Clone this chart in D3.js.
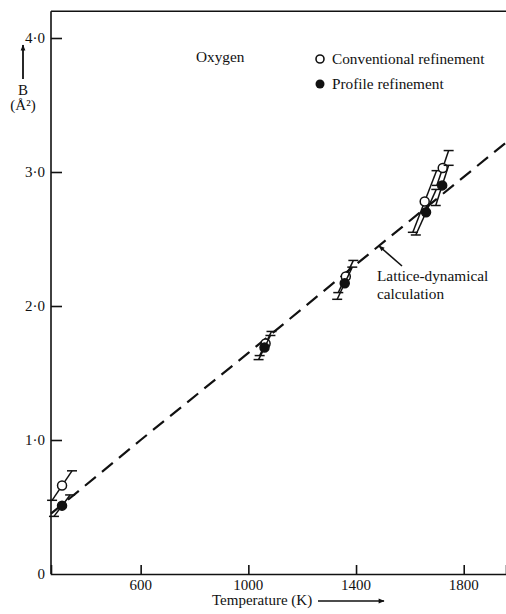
<!DOCTYPE html>
<html>
<head>
<meta charset="utf-8">
<script src="https://cdn.jsdelivr.net/npm/d3@7"></script>
<style>
  html, body { margin: 0; padding: 0; background: #fff; }
  svg text { font-family: "Liberation Serif", "DejaVu Serif", serif; fill: #111; }
</style>
</head>
<body>
<div id="chart"></div>
<script>
// lattice-dynamical calculation (dashed line)
const calcT = [267, 600, 1000, 1400, 1957];
const calcB = [0.45, 1.0, 1.65, 2.31, 3.22];

// conventional refinement (open circles), error bars are slanted: +/- dT, +/- dB
const convT  = [308, 1064, 1362, 1655, 1722];
const convB  = [0.66, 1.72, 2.22, 2.78, 3.03];
const convDT = [37, 22, 28, 44, 22];
const convDB = [0.11, 0.09, 0.12, 0.23, 0.13];

// profile refinement (filled circles)
const profT  = [308, 1060, 1358, 1660, 1720];
const profB  = [0.51, 1.69, 2.17, 2.70, 2.90];
const profDT = [30, 22, 28, 38, 24];
const profDB = [0.08, 0.09, 0.12, 0.17, 0.15];

const xTicks = [600, 1000, 1400, 1800];
const yTicks = [0, 1, 2, 3, 4];
const yTickLabels = ['0', '1·0', '2·0', '3·0', '4·0'];

const width = 506, height = 614;

const svg = d3.select('#chart').append('svg')
  .attr('width', width)
  .attr('height', height);

const x = d3.scaleLinear().domain([267, 1957]).range([51, 506]);
const y = d3.scaleLinear().domain([0, 4.2]).range([574, 11.2]);

// frame: left axis and top line
const frame = svg.append('g').attr('stroke', '#111').attr('stroke-width', 1.6).attr('fill', 'none');
frame.append('line').attr('x1', x(267)).attr('x2', x(267)).attr('y1', y(0)).attr('y2', y(4.2));
frame.append('line').attr('x1', x(267)).attr('x2', width).attr('y1', y(4.2)).attr('y2', y(4.2));

const xAxis = svg.append('g')
  .attr('transform', `translate(0,${y(0)})`)
  .call(d3.axisTop(x).tickValues(xTicks).tickSize(9).tickFormat(''));
xAxis.select('.domain').attr('stroke', '#111').attr('stroke-width', 1.6);
xAxis.selectAll('line').attr('stroke', '#111').attr('stroke-width', 1.6);

const yAxis = svg.append('g')
  .attr('transform', `translate(${x(267)},0)`)
  .call(d3.axisRight(y).tickValues(yTicks.slice(1)).tickSize(11).tickFormat(''));
yAxis.select('.domain').remove();
yAxis.selectAll('line').attr('stroke', '#111').attr('stroke-width', 1.6);

// tick labels
svg.append('g').selectAll('text')
  .data(xTicks)
  .join('text')
  .attr('x', d => x(d))
  .attr('y', 590)
  .attr('text-anchor', 'middle')
  .attr('font-size', 15)
  .text(d => d);

svg.append('g').selectAll('text')
  .data(yTicks)
  .join('text')
  .attr('x', 45)
  .attr('y', d => y(d) + 5)
  .attr('text-anchor', 'end')
  .attr('font-size', 15)
  .text((d, i) => yTickLabels[i]);

// arrow marker
svg.append('defs').append('marker')
  .attr('id', 'arr')
  .attr('viewBox', '0 0 10 10')
  .attr('refX', 9).attr('refY', 5)
  .attr('markerWidth', 8).attr('markerHeight', 6)
  .attr('markerUnits', 'userSpaceOnUse')
  .attr('orient', 'auto')
  .append('path').attr('d', 'M0,1 L10,5 L0,9 Z').attr('fill', '#111');

// axis titles
svg.append('line')
  .attr('x1', 23).attr('x2', 23).attr('y1', 79).attr('y2', 45)
  .attr('stroke', '#111').attr('stroke-width', 1.8).attr('marker-end', 'url(#arr)');
svg.append('text').attr('x', 23).attr('y', 95).attr('text-anchor', 'middle').attr('font-size', 15).text('B');
svg.append('text').attr('x', 23).attr('y', 110).attr('text-anchor', 'middle').attr('font-size', 15).text('(Å²)');

svg.append('text').attr('x', 212).attr('y', 605).attr('font-size', 15).text('Temperature (K)');
svg.append('line')
  .attr('x1', 318).attr('x2', 384).attr('y1', 601).attr('y2', 601)
  .attr('stroke', '#111').attr('stroke-width', 1.6).attr('marker-end', 'url(#arr)');

// calculation line
const line = d3.line().x(d => x(d)).y((d, i) => y(calcB[i]));
svg.append('path')
  .attr('d', line(calcT))
  .attr('fill', 'none')
  .attr('stroke', '#111')
  .attr('stroke-width', 2.2)
  .attr('stroke-dasharray', '14,8');

// error bars + points
function drawSeries(T, B, DT, DB, filled) {
  const g = svg.append('g');
  const data = T.map((t, i) => ({ t, b: B[i], dt: DT[i], db: DB[i] }));
  const bars = g.selectAll('g.err').data(data).join('g').attr('class', 'err')
    .attr('stroke', '#111').attr('stroke-width', 1.5);
  bars.append('line')
    .attr('x1', d => x(d.t - d.dt)).attr('y1', d => y(d.b - d.db))
    .attr('x2', d => x(d.t + d.dt)).attr('y2', d => y(d.b + d.db));
  bars.append('line')
    .attr('x1', d => x(d.t - d.dt) - 5).attr('x2', d => x(d.t - d.dt) + 5)
    .attr('y1', d => y(d.b - d.db)).attr('y2', d => y(d.b - d.db));
  bars.append('line')
    .attr('x1', d => x(d.t + d.dt) - 5).attr('x2', d => x(d.t + d.dt) + 5)
    .attr('y1', d => y(d.b + d.db)).attr('y2', d => y(d.b + d.db));
  g.selectAll('circle').data(data).join('circle')
    .attr('cx', d => x(d.t)).attr('cy', d => y(d.b))
    .attr('r', 4.5)
    .attr('fill', filled ? '#111' : '#fff')
    .attr('stroke', '#111').attr('stroke-width', 1.5);
}
drawSeries(convT, convB, convDT, convDB, false);
drawSeries(profT, profB, profDT, profDB, true);

// legend
svg.append('text').attr('x', 196).attr('y', 62).attr('font-size', 15.3).text('Oxygen');
svg.append('circle').attr('cx', 320).attr('cy', 59).attr('r', 4)
  .attr('fill', '#fff').attr('stroke', '#111').attr('stroke-width', 1.6);
svg.append('text').attr('x', 332).attr('y', 64).attr('font-size', 15.3).text('Conventional refinement');
svg.append('circle').attr('cx', 320).attr('cy', 84).attr('r', 4.5).attr('fill', '#111');
svg.append('text').attr('x', 332).attr('y', 89).attr('font-size', 15.3).text('Profile refinement');

// annotation
svg.append('line')
  .attr('x1', 402).attr('y1', 266).attr('x2', 379).attr('y2', 246)
  .attr('stroke', '#111').attr('stroke-width', 1.6).attr('marker-end', 'url(#arr)');
svg.append('text').attr('x', 377).attr('y', 281).attr('font-size', 15.3).text('Lattice-dynamical');
svg.append('text').attr('x', 377).attr('y', 299).attr('font-size', 15.3).text('calculation');
</script>
</body>
</html>
